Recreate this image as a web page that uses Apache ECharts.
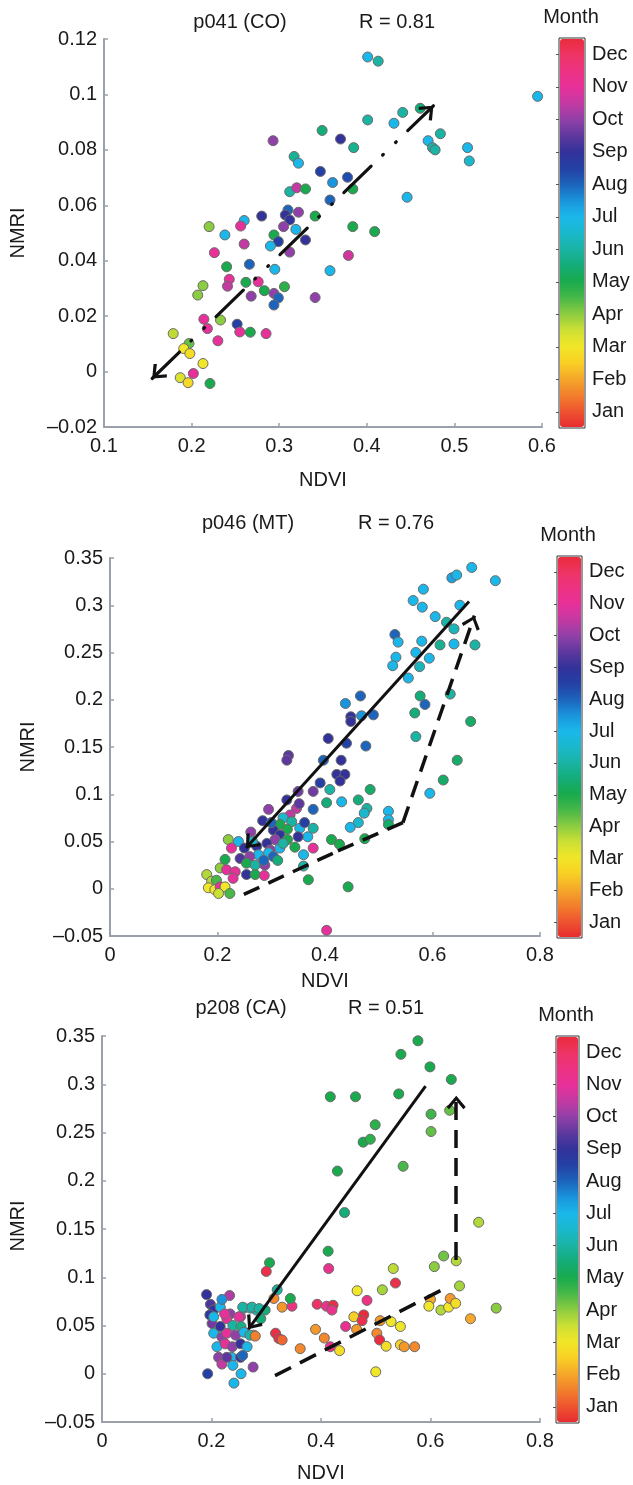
<!DOCTYPE html>
<html><head><meta charset="utf-8">
<script src="https://cdn.jsdelivr.net/npm/echarts@6/dist/echarts.min.js"></script>
<style>html,body{margin:0;padding:0;background:#fff}#c{width:633px;height:1485px}</style>
</head><body><div id="c"></div>
<script>
// ---------- data ----------
const monthNames = ['Jan','Feb','Mar','Apr','May','Jun','Jul','Aug','Sep','Oct','Nov','Dec'];
// colour scale from 0.5 (bottom, Jan) to 12.5 (top, Dec) in steps of 0.5
const monthColors = ['#e82c30','#ee5530','#f2802c','#f5a82a','#f8d024','#f2e628','#cce034','#8ccc40','#48b848','#18aa4c','#14ac78','#1ab4a4','#1ab8cc','#1ab8ea','#1a94dc','#1c64bc','#2440a4','#32329a','#5e389e','#9040a8','#c23aa2','#e8309a','#ec3282','#ee3466','#ea2c3c'];

// [NDVI, NMRI, month]
const p041Points = [
[0.401,0.1135,7],[0.413,0.112,6],[0.595,0.0993,7],[0.461,0.095,5.5],[0.441,0.0935,6],[0.401,0.0908,6],[0.431,0.0896,7],[0.484,0.0858,6],[0.470,0.0833,7],[0.475,0.0808,6],[0.478,0.080,6],[0.515,0.0808,7],[0.517,0.076,6.5],
[0.349,0.087,5.5],[0.370,0.0839,9],[0.385,0.0808,5.8],[0.293,0.0833,10],[0.317,0.0776,5.8],[0.322,0.0752,7],[0.347,0.0722,8.5],[0.378,0.0701,8.3],[0.361,0.0682,7.5],[0.446,0.0629,7],[0.384,0.0659,5],[0.312,0.0649,6],[0.320,0.0663,10.5],[0.330,0.0659,5],[0.358,0.0619,8],
[0.341,0.0561,5],[0.310,0.0583,8],[0.307,0.0565,9],[0.312,0.0547,9],[0.322,0.0575,10],[0.280,0.0561,9],[0.305,0.0523,10],[0.319,0.0513,7],[0.294,0.0493,5],[0.299,0.0469,8.5],[0.290,0.0453,7],[0.330,0.0475,9],[0.312,0.0431,10],[0.384,0.0523,5],[0.409,0.0505,5],[0.379,0.0419,10.7],[0.358,0.0364,7],[0.341,0.0267,10],
[0.295,0.0369,7],[0.294,0.0282,10],[0.299,0.0266,8],[0.294,0.024,8],[0.306,0.0306,4.8],[0.283,0.0292,5],[0.276,0.0324,11],[0.262,0.0322,5],[0.268,0.0272,10],[0.260,0.0545,7],[0.256,0.0525,11],[0.220,0.0523,4],[0.238,0.0493,7],[0.260,0.046,10.5],[0.226,0.0429,11],[0.240,0.0378,5],[0.266,0.0387,8],[0.243,0.0333,11],[0.241,0.0308,10.5],
[0.213,0.031,4],[0.207,0.0276,4],[0.214,0.0189,11],[0.218,0.0155,11],[0.233,0.0186,4],[0.230,0.0111,11],[0.252,0.0171,8.5],[0.255,0.0143,11],[0.267,0.0142,5],[0.285,0.0137,11],[0.179,0.0137,3.6],[0.197,0.0101,4.3],[0.191,0.0083,3],[0.198,0.0065,2.8],[0.213,0.0029,3],[0.202,-0.0007,11],[0.187,-0.0022,3.3],[0.196,-0.004,2.7],[0.221,-0.0043,5]
];
const p046Points = [
[0.673,0.340,7],[0.717,0.326,7],[0.636,0.329,7.3],[0.645,0.332,7],[0.583,0.317,7],[0.564,0.305,7],[0.581,0.298,7],[0.651,0.300,7],[0.605,0.288,7],[0.626,0.282,6],[0.640,0.275,6.3],[0.530,0.269,8],[0.536,0.261,7],[0.580,0.262,7],[0.614,0.258,5.8],[0.640,0.259,7],[0.679,0.258,6],[0.532,0.245,7],[0.569,0.250,7],[0.594,0.244,7],[0.526,0.236,7],[0.576,0.235,6.3],[0.555,0.223,7],[0.577,0.204,5.5],[0.586,0.195,8],[0.633,0.206,6],[0.567,0.186,5.5],[0.671,0.177,5.3],[0.569,0.161,6],[0.646,0.136,5.3],[0.620,0.115,5.3],[0.595,0.101,7],
[0.438,0.196,7.5],[0.466,0.204,8],[0.448,0.182,9],[0.448,0.177,9],[0.468,0.183,7.5],[0.490,0.184,8],[0.406,0.159,9],[0.440,0.154,8.5],[0.476,0.151,8],[0.332,0.141,9.5],[0.329,0.136,9.5],[0.397,0.136,8],[0.430,0.136,9],[0.422,0.121,9],[0.437,0.121,9],
[0.428,0.114,9],[0.391,0.112,8.5],[0.378,0.103,9.7],[0.409,0.105,6],[0.350,0.103,9.7],[0.484,0.105,5.3],[0.462,0.094,5.5],[0.431,0.092,7],[0.403,0.091,5.5],[0.478,0.085,6],[0.473,0.080,6.5],[0.518,0.082,7],[0.518,0.073,7],[0.462,0.070,6.5],[0.447,0.065,7],[0.518,0.068,5.3],[0.474,0.053,5],[0.412,0.052,5],[0.427,0.047,5],[0.378,0.043,11],[0.360,0.036,7],[0.360,0.024,6],[0.369,0.0095,5],[0.443,0.002,5],
[0.295,0.084,10],[0.329,0.094,9],[0.378,0.084,8],[0.347,0.085,10.5],[0.335,0.078,10.5],[0.322,0.075,6.5],[0.338,0.071,6],[0.316,0.068,5],[0.304,0.062,9],[0.330,0.063,5],[0.353,0.064,7],[0.378,0.064,6],[0.368,0.055,7],[0.350,0.055,9],[0.316,0.057,9],[0.307,0.052,10],[0.330,0.052,5],[0.292,0.048,9],[0.298,0.041,10],[0.316,0.043,7],[0.344,0.044,5],[0.273,0.045,9],[0.276,0.036,7],[0.295,0.038,7],[0.304,0.034,8],[0.260,0.034,10],[0.242,0.032,9.3],[0.239,0.050,7],[0.220,0.052,4],[0.226,0.043,11],[0.254,0.027,5],[0.270,0.025,6],[0.288,0.025,10],
[0.214,0.031,5],[0.205,0.022,4],[0.217,0.020,11],[0.233,0.018,11],[0.254,0.015,9],[0.270,0.015,5],[0.287,0.014,11],[0.229,0.011,11],[0.180,0.015,3.7],[0.189,0.008,3.7],[0.198,0.009,4.5],[0.183,0.001,3],[0.195,-0.001,3],[0.205,0.002,11],[0.214,0.002,3],[0.202,-0.005,3.5],[0.223,-0.005,4.5],
[0.284,0.072,9],[0.262,0.060,10],[0.250,0.043,9],[0.286,0.030,8],[0.312,0.030,5.5],[0.265,0.050,6.5],[0.352,0.090,9.5],[0.362,0.070,8.5],[0.300,0.070,8],[0.322,0.048,6],
[0.403,-0.044,11]
];
const p208Points = [
[0.577,0.345,5],[0.546,0.331,5],[0.599,0.318,5],[0.638,0.305,5],[0.417,0.287,5],[0.463,0.287,5],[0.542,0.290,5],[0.601,0.269,4.6],[0.635,0.273,4.3],[0.601,0.251,4.3],[0.499,0.258,4.8],[0.477,0.240,5],[0.490,0.243,4.8],[0.430,0.210,5],[0.550,0.215,4.5],[0.443,0.167,5.5],[0.688,0.157,3.7],[0.413,0.127,5],[0.624,0.122,4.2],[0.607,0.111,4],[0.647,0.117,3.7],[0.532,0.109,3.6],[0.414,0.109,11.3],
[0.306,0.115,5],[0.300,0.106,12.3],[0.536,0.094,12.3],[0.512,0.087,3.8],[0.466,0.086,3],[0.653,0.091,3.8],[0.720,0.068,4],[0.673,0.057,2],[0.600,0.077,2],[0.597,0.070,3],[0.619,0.066,3.7],[0.633,0.069,3],[0.636,0.078,1.8],[0.646,0.073,2.8],[0.484,0.076,11.5],[0.460,0.059,2.5],[0.478,0.061,12.5],[0.475,0.055,12.3],[0.508,0.055,1.8],[0.528,0.054,3],[0.545,0.049,3],
[0.393,0.072,12],[0.410,0.070,11.3],[0.422,0.071,12.4],[0.420,0.066,11.3],[0.445,0.049,11.2],[0.465,0.046,1.8],[0.390,0.046,1.8],[0.406,0.037,1.6],[0.417,0.028,11.3],[0.434,0.024,2.8],[0.362,0.026,1.6],[0.502,0.042,1.6],[0.507,0.035,12.5],[0.519,0.0285,2.8],[0.545,0.030,2.6],[0.552,0.028,1.8],[0.571,0.028,1.6],
[0.317,0.042,12.4],[0.323,0.0365,12.4],[0.329,0.035,1.2],[0.277,0.040,1.3],[0.314,0.078,1.6],[0.329,0.069,1.8],[0.347,0.070,11.5],[0.344,0.078,5],[0.320,0.087,6],[0.298,0.066,5.5],[0.500,0.002,3],
[0.191,0.082,9],[0.233,0.081,10.3],[0.198,0.072,9.3],[0.204,0.066,9],[0.216,0.069,7],[0.234,0.062,10],[0.253,0.059,11],[0.228,0.057,11],[0.259,0.068,6],[0.271,0.068,6.5],[0.282,0.066,6],[0.239,0.050,6],[0.254,0.049,5.7],[0.197,0.061,8.8],[0.201,0.052,9.7],[0.204,0.042,7],[0.216,0.049,9],[0.219,0.038,10],[0.228,0.042,11],[0.244,0.040,10],[0.259,0.043,7],[0.270,0.040,6],[0.280,0.039,1.5],[0.210,0.028,7],[0.225,0.031,11],[0.238,0.028,10],[0.253,0.031,9],[0.265,0.028,7],[0.213,0.017,10],[0.237,0.017,7],[0.253,0.017,9],
[0.193,0.0,8.5],[0.219,0.010,10.5],[0.239,0.0087,7],[0.254,0.0,7],[0.241,-0.0097,7],[0.276,0.0069,10],[0.228,0.017,9.5],[0.257,0.019,8],
[0.219,0.077,7.5],[0.204,0.059,7],[0.224,0.062,11],[0.250,0.059,11],[0.257,0.069,6],[0.274,0.069,6],[0.287,0.0675,6],[0.290,0.057,5.5]
];
// trend arrows [NDVI, NMRI]
const p041Trend = [[0.155,-0.0025],[0.476,0.0959]];
const p046Solid = [[0.668,0.304],[0.253,0.043]];
const p046Dashed = [[0.249,-0.006],[0.424,0.040],[0.545,0.070],[0.678,0.289]];
const p208Solid = [[0.591,0.298],[0.267,0.046]];
const p208DashedA = [[0.316,-0.002],[0.621,0.087]];
const p208DashedB = [[0.647,0.118],[0.647,0.288]];
// axis ranges [min, max, interval]
const p041X = [0.1, 0.6, 0.1], p041Y = [-0.02, 0.12, 0.02];
const p046X = [0, 0.8, 0.2],   p046Y = [-0.05, 0.35, 0.05];
const p208X = [0, 0.8, 0.2],   p208Y = [-0.05, 0.35, 0.05];
const titles = [['p041 (CO)','R = 0.81'],['p046 (MT)','R = 0.76'],['p208 (CA)','R = 0.51']];

// ---------- layout ----------
const FONT = '"Liberation Sans", Arial, sans-serif';
const TXT = '#1a1a1a';
const AX = '#9aa1aa';
const grids = [
  {left:104, top:39, width:438, height:388},
  {left:110, top:558, width:430, height:378},
  {left:102, top:1036, width:438, height:386}
];
const cbars = [
  {left:560, top:39, width:24, height:388},
  {left:558, top:557, width:23, height:380},
  {left:557, top:1037, width:21, height:385}
];
const fmt = v => String(+v.toFixed(2)).replace('-', '\u2013');

const option = {animation:false, backgroundColor:'#fff', grid:[], xAxis:[], yAxis:[], series:[], visualMap:[], graphic:[]};
const ranges = [[p041X,p041Y],[p046X,p046Y],[p208X,p208Y]];
grids.forEach((g,i)=>{
  option.grid.push(Object.assign({outerBoundsMode:'none', containLabel:false}, g));
  const [rx, ry] = ranges[i];
  const axisCommon = {
    axisLine:{show:true, onZero:false, lineStyle:{color:AX, width:2}},
    axisTick:{show:true, inside:true, length:4, lineStyle:{color:AX, width:1.5}},
    splitLine:{show:false}
  };
  option.xAxis.push(Object.assign({type:'value', gridIndex:i, min:rx[0], max:rx[1], interval:rx[2]}, JSON.parse(JSON.stringify(axisCommon)), {axisLabel:{color:TXT, fontSize:20, fontFamily:FONT, formatter:fmt, margin:9, showMinLabel:true, showMaxLabel:true}}));
  option.yAxis.push(Object.assign({type:'value', gridIndex:i, min:ry[0], max:ry[1], interval:ry[2]}, JSON.parse(JSON.stringify(axisCommon)), {axisLabel:{color:TXT, fontSize:20, fontFamily:FONT, formatter:fmt, margin:7, showMinLabel:true, showMaxLabel:true}}));
});
cbars.forEach((c,i)=>{
  option.grid.push({outerBoundsMode:'none', left:c.left-1, top:c.top-1, width:c.width+2, height:c.height+2, show:true, borderColor:'#333', borderWidth:1, backgroundColor:'transparent'});
  option.xAxis.push({type:'value', gridIndex:3+i, show:false, min:0, max:1});
  option.yAxis.push({type:'category', gridIndex:3+i, data:monthNames, position:'right',
    axisLine:{show:false}, axisTick:{show:true, inside:true, alignWithLabel:true, length:3, lineStyle:{color:'#555'}},
    axisLabel:{color:TXT, fontSize:20, fontFamily:FONT, margin:7}, splitLine:{show:false}});
  option.visualMap.push({type:'continuous', show:true, seriesIndex:i, dimension:2, min:0.5, max:12.5,
    inRange:{color:monthColors}, orient:'vertical', left:c.left, top:c.top, itemWidth:c.width, itemHeight:c.height,
    calculable:false, text:null, padding:0, hoverLink:false});
});
const pts = [p041Points, p046Points, p208Points];
pts.forEach((d,i)=>{
  option.series.push({type:'scatter', xAxisIndex:i, yAxisIndex:i, data:d, symbol:'circle', symbolSize:10,
    itemStyle:{borderColor:'#6a6a6a', borderWidth:1, opacity:1}, z:2});
});
const CHEV = 'path://M0,0L10,12L7.5,14.5L0,5L-7.5,14.5L-10,12ZM0,-14.5L0.01,-14.5L0,-14.49Z';
const CHS = [19,27];
function seg(a,b,startSym,endSym){
  return [{coord:a, symbol:startSym||'none', symbolSize:CHS},{coord:b, symbol:endSym||'none', symbolSize:CHS}];
}
function polySegs(p, arrowEnd){
  const out=[];
  for(let k=0;k<p.length-1;k++) out.push(seg(p[k],p[k+1],'none', (arrowEnd && k===p.length-2)?CHEV:'none'));
  return out;
}
function lineSeries(i, data, ls){
  return {type:'scatter', xAxisIndex:i, yAxisIndex:i, data:[], z:5, silent:true,
    markLine:{silent:true, animation:false, label:{show:false}, emphasis:{disabled:true},
      lineStyle:Object.assign({color:'#111', width:3, opacity:1}, ls), data:data}};
}
option.series.push(lineSeries(0, [seg(p041Trend[0], p041Trend[1], CHEV, CHEV)], {type:[38,16,1,17,1,16], cap:'round', width:3.2}));
option.series.push(lineSeries(1, [seg(p046Solid[0], p046Solid[1], 'none', CHEV)], {type:'solid', width:3}));
option.series.push(lineSeries(1, polySegs(p046Dashed, true), {type:[17,10], width:3.5}));
option.series.push(lineSeries(2, [seg(p208Solid[0], p208Solid[1], 'none', CHEV)], {type:'solid', width:3}));
option.series.push(lineSeries(2, polySegs(p208DashedA, false).concat(polySegs(p208DashedB, true)), {type:[18,10], width:3.5}));

// ---------- texts ----------
function txt(t,x,y,rot){
  return {type:'text', x:x, y:y, rotation:rot||0, silent:true,
    style:{text:t, fill:TXT, fontSize:20, fontFamily:FONT, align:'center', verticalAlign:'middle'}};
}
const textPos = [
  {t1:[240,22], t2:[397,22], month:[571,17], ndvi:[323,480], nmri:[18,233]},
  {t1:[248,523], t2:[396,523], month:[568,535], ndvi:[325,981], nmri:[28,747]},
  {t1:[241,1008], t2:[386,1008], month:[566,1015], ndvi:[321,1473], nmri:[18,1226]}
];
textPos.forEach((p,i)=>{
  option.graphic.push(txt(titles[i][0], p.t1[0], p.t1[1]));
  option.graphic.push(txt(titles[i][1], p.t2[0], p.t2[1]));
  option.graphic.push(txt('Month', p.month[0], p.month[1]));
  option.graphic.push(txt('NDVI', p.ndvi[0], p.ndvi[1]));
  option.graphic.push(txt('NMRI', p.nmri[0], p.nmri[1], Math.PI/2));
});

const chart = echarts.init(document.getElementById('c'), null, {renderer:'canvas'});
chart.setOption(option);
</script></body></html>
